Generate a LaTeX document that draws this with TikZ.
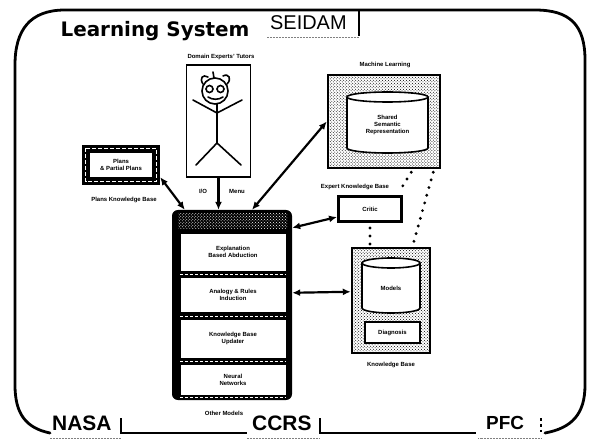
\documentclass[tikz,border=0pt]{standalone}
\usepackage{fontspec}
\setmainfont{Liberation Sans}
\newfontfamily\titlefont{DejaVu Sans}
\usetikzlibrary{arrows.meta,calc,patterns}

\tikzset{
  frameline/.style={line width=2.8pt, line cap=round},
  tiny/.style={font=\fontsize{6}{7}\selectfont\bfseries, align=center},
  link/.style={line width=2.2pt, {Latex[length=8pt,width=7pt]}-{Latex[length=8pt,width=7pt]}},
  onelink/.style={line width=2.2pt, -{Latex[length=8pt,width=7pt]}},
  dotline/.style={line width=3.2pt, line cap=round, dash pattern=on 0pt off 8pt},
  stipple/.style={draw, line width=2.5pt, pattern=crosshatch dots},
  panel/.style={draw, fill=white, line width=0.6pt, minimum width=106bp, tiny},
  tabrule/.style={line width=0.5pt, gray, densely dotted},
}

\begin{document}
\begin{tikzpicture}[x=1bp,y=-1bp]
\useasboundingbox (0,0) rectangle (590,442);

% ---- outer frame ----
\draw[frameline] (50,433) .. controls (26,428) and (15,414) .. (15,385)
  -- (15,65) .. controls (15,30) and (30,10) .. (65,10) -- (535,10)
  .. controls (570,10) and (585,25) .. (585,60) -- (585,385)
  .. controls (585,414) and (572,428) .. (545,433);

% ---- heading ----
\node[font=\titlefont\bfseries\fontsize{20}{21}\selectfont] (title) at (155,31) {Learning System};
\node[font=\fontsize{20}{21}\selectfont, anchor=west, inner sep=0pt] (seidam) at (270,23) {SEIDAM};
\draw[line width=2.2pt] (359,11) -- (359,36);
\draw[tabrule] (267,37) -- (359,37);

% ---- bottom tabs ----
\node[font=\fontsize{21}{22}\selectfont\bfseries, anchor=west, inner sep=0pt] (nasa) at (52,423) {NASA};
\node[font=\fontsize{21}{22}\selectfont\bfseries, anchor=west, inner sep=0pt] (ccrs) at (252,423) {CCRS};
\node[font=\fontsize{19}{20}\selectfont\bfseries, anchor=west, inner sep=0pt] (pfc) at (486,423) {PFC};
\draw[line width=2pt] (121,418) -- (121,433) -- (247,433);
\draw[line width=2pt] (320,418) -- (320,433) -- (476,433);
\draw[line width=1.2pt, dashed] (541,418) -- (541,432);
\draw[tabrule] (50,438) -- (121,438);
\draw[tabrule] (247,438) -- (320,438);
\draw[tabrule] (478,438) -- (541,438);

% ---- human expert ----
\node[tiny] (expertlbl) at (221,57) {Domain Experts' Tutors};
\node[draw, line width=1.6pt, minimum width=64bp, minimum height=112bp, inner sep=0pt] (expert) at (218.5,121) {};
\begin{scope}[line width=1.6pt, line cap=round]
  \draw (215,91) circle[radius=13];
  \draw (209.5,89) circle[radius=3.5];
  \draw (220.5,89) circle[radius=3.5];
  \draw (208,97) .. controls (212,100) and (219,100) .. (223,97);
  \draw (203,84) .. controls (199,78) and (203,74) .. (208,77);
  \draw (227,84) .. controls (232,79) and (229,73) .. (223,76);
  \draw (214,78) -- (213,72);
  \draw (193,100) -- (217,113) -- (242,100);
  \draw (217,104) -- (217,143);
  \draw (196,165) -- (217,143) -- (241,165);
\end{scope}
\node[tiny] (iolbl) at (203,191) {I/O};
\node[tiny] (menulbl) at (237,191) {Menu};

% ---- machine learning store ----
\node[tiny] (mllbl) at (385,65) {Machine Learning};
\node[stipple, minimum width=112bp, minimum height=93bp, inner sep=0pt] (ml) at (384,121.5) {};
\draw[line width=1.6pt, fill=white] (347,97) -- (347,148)
  arc[start angle=180, end angle=0, x radius=40.5, y radius=5] -- (428,97);
\draw[line width=1.6pt, fill=white] (387.5,97) ellipse[x radius=40.5, y radius=5];
\node[tiny] (mltext) at (387.5,125) {Shared\\Semantic\\Representation};

% ---- plans ----
\node[fill=black, minimum width=78bp, minimum height=40bp, inner sep=0pt] (plans) at (121,165) {};
\draw[white, line width=1.2pt, dash pattern=on 4pt off 2pt] (85.5,148.5) rectangle (156.5,181.5);
\node[draw, fill=white, line width=1.2pt, minimum width=64bp, minimum height=26bp, tiny] (planstext) at (121,165) {Plans\\\& Partial Plans};
\node[tiny] (planslbl) at (124,200) {Plans Knowledge Base};

% ---- critic ----
\node[tiny] (criticlbl) at (355,187) {Expert Knowledge Base};
\node[draw, line width=3pt, minimum width=63bp, minimum height=25bp, tiny] (critic) at (370,209) {Critic};

% ---- knowledge base ----
\node[stipple, minimum width=78bp, minimum height=105bp, inner sep=0pt] (kb) at (391,300.5) {};
\draw[line width=1.6pt, fill=white] (362,263) -- (362,308)
  arc[start angle=180, end angle=0, x radius=29, y radius=5] -- (420,263);
\draw[line width=1.6pt, fill=white] (391,263) ellipse[x radius=29, y radius=5];
\node[tiny] (kbtext) at (391,288) {Models};
\node[draw, fill=white, line width=1.6pt, minimum width=55bp, minimum height=21bp, tiny] (diag) at (392.5,332.5) {Diagnosis};
\node[tiny] (kblbl) at (391,365) {Knowledge Base};

% ---- learning stack ----
\node[fill=black, rounded corners=6pt, minimum width=120bp, minimum height=190bp, inner sep=0pt] (stack) at (232,305) {};
\fill[pattern=crosshatch dots, pattern color=white] (178,214) rectangle (287,229);
\node[panel, minimum height=38bp] (s1) at (233,252) {Explanation\\Based Abduction};
\node[panel, minimum height=35bp] (s2) at (233,294.5) {Analogy \& Rules\\Induction};
\node[panel, minimum height=39bp] (s3) at (233,338.5) {Knowledge Base\\Updater};
\node[panel, minimum height=31bp] (s4) at (233,379.5) {Neural\\Networks};
\foreach \yy in {274.5,316,361,397.5}
  \draw[white, line width=0.7pt, dash pattern=on 3pt off 2pt] (180,\yy) -- (286,\yy);
\node[tiny] (stacklbl) at (224,413) {Other Models};

% ---- connectors ----
\draw[onelink] (expert.south) -- (expert.south |- stack.north);
\draw[link] ($(plans.south east)+(0,-8)$) -- ($(stack.north west)+(13,0)$);
\draw[link] (ml.west) -- ($(stack.north)+(20,0)$);
\draw[link] ($(critic.south west)+(0,-6)$) -- ($(stack.north east)+(0,18)$);
\draw[link] ($(kb.north west)+(0,45)$) -- ($(stack.north east)+(0,83)$);
\draw[dotline] ($(ml.south east)+(-30,3)$) -- ($(critic.north east)+(-4,-3)$);
\draw[dotline] ($(ml.south east)+(-8,3)$) -- ($(kb.north east)+(-18,-3)$);
\draw[dotline] ($(critic.south)+(0,5)$) -- (critic.south |- kb.north);
\end{tikzpicture}
\end{document}
